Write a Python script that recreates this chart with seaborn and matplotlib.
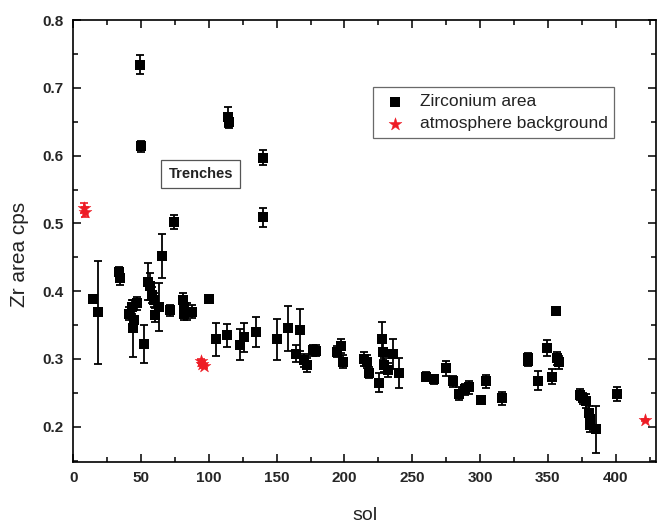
import matplotlib
matplotlib.use("Agg")
import matplotlib.pyplot as plt
from matplotlib.ticker import MultipleLocator
import seaborn as sns
import pandas as pd

# Zirconium area: sol, cps, error
zr_sol = [14.4, 18, 33.5, 34.5, 41.2, 43.1, 44.3, 44.8, 47.3, 49.3, 50, 52.4,
          55.4, 56.6, 57.9, 59.6, 60.3, 63.5, 65.3, 71.4, 74.3, 81.2, 81.5, 82,
          83.7, 87.4, 100.1, 105.3, 113.2, 114, 115, 123, 126.2, 135, 140.2,
          140.3, 150, 158.2, 164.3, 167.3, 170.2, 172.2, 177, 179, 194.3, 197.5,
          199.2, 214.7, 216.4, 218.4, 225.7, 227.8, 228.7, 229.5, 232.4, 235.8,
          240, 260.2, 266.1, 274.7, 280.3, 284.7, 288.9, 292.1, 300.5, 304.4,
          316, 335, 335.4, 342.6, 349.6, 353.3, 355.8, 357, 358.3, 373.7, 375.7,
          378.2, 380.4, 381.1, 381.1, 385.5, 401.3]
zr_cps = [0.388, 0.369, 0.428, 0.419, 0.367, 0.377, 0.345, 0.357, 0.382, 0.734,
          0.614, 0.322, 0.414, 0.407, 0.394, 0.387, 0.365, 0.377, 0.452, 0.372,
          0.502, 0.387, 0.377, 0.367, 0.370, 0.370, 0.388, 0.329, 0.335, 0.657,
          0.650, 0.321, 0.332, 0.340, 0.597, 0.509, 0.329, 0.345, 0.308, 0.343,
          0.298, 0.291, 0.313, 0.312, 0.311, 0.319, 0.296, 0.300, 0.296, 0.280,
          0.265, 0.330, 0.311, 0.291, 0.284, 0.307, 0.279, 0.274, 0.270, 0.286,
          0.267, 0.249, 0.255, 0.258, 0.240, 0.267, 0.242, 0.301, 0.297, 0.268,
          0.316, 0.274, 0.371, 0.301, 0.295, 0.247, 0.242, 0.238, 0.220, 0.212,
          0.202, 0.196, 0.248]
zr_err = [0.004, 0.076, 0.008, 0.010, 0.010, 0.010, 0.042, 0.015, 0.010, 0.014,
          0.008, 0.028, 0.027, 0.020, 0.012, 0.010, 0.010, 0.035, 0.033, 0.008,
          0.010, 0.011, 0.010, 0.010, 0.012, 0.010, 0.006, 0.024, 0.017, 0.015,
          0.010, 0.023, 0.021, 0.022, 0.011, 0.014, 0.030, 0.033, 0.012, 0.031,
          0.010, 0.010, 0.008, 0.008, 0.008, 0.010, 0.010, 0.010, 0.010, 0.008,
          0.014, 0.024, 0.012, 0.010, 0.010, 0.022, 0.022, 0.007, 0.007, 0.011,
          0.008, 0.010, 0.008, 0.010, 0.005, 0.010, 0.010, 0.008, 0.008, 0.014,
          0.012, 0.011, 0.006, 0.010, 0.010, 0.008, 0.008, 0.010, 0.010, 0.010,
          0.010, 0.034, 0.010]

# atmosphere background
atm_sol = [8, 9, 94, 95, 96.5, 422]
atm_cps = [0.523, 0.517, 0.297, 0.292, 0.290, 0.210]
atm_err = [0.007, 0.007, 0.003, 0.003, 0.003, 0.002]

zr = pd.DataFrame({"sol": zr_sol, "cps": zr_cps, "err": zr_err})
atm = pd.DataFrame({"sol": atm_sol, "cps": atm_cps, "err": atm_err})

sns.set_theme(style="ticks")
plt.rcParams["font.family"] = ["Liberation Sans", "DejaVu Sans"]

fig = plt.figure(figsize=(6.57, 5.24), dpi=100)
ax = fig.add_axes([0.1114, 0.1189, 0.8876, 0.8429])

ax.errorbar(zr["sol"], zr["cps"], yerr=zr["err"], fmt="none", ecolor="black",
            elinewidth=1.3, capsize=3, capthick=1.3, zorder=2)
ax.errorbar(atm["sol"], atm["cps"], yerr=atm["err"], fmt="none", ecolor="#ee1c25",
            elinewidth=1.2, capsize=3, capthick=1.2, zorder=2)
sns.scatterplot(data=zr, x="sol", y="cps", marker="s", s=55, color="black",
                edgecolor="black", linewidth=0, label="Zirconium area", ax=ax,
                zorder=3)
sns.scatterplot(data=atm, x="sol", y="cps", marker="*", s=95, color="#ee1c25",
                edgecolor="#ee1c25", linewidth=0.3, label="atmosphere background",
                ax=ax, zorder=4)

ax.set_xlim(0, 430)
ax.set_ylim(0.1485, 0.8)
ax.xaxis.set_major_locator(MultipleLocator(50))
ax.xaxis.set_minor_locator(MultipleLocator(25))
ax.yaxis.set_minor_locator(MultipleLocator(0.05))
ax.set_yticks([0.2, 0.3, 0.4, 0.5, 0.6, 0.7, 0.8])
ax.tick_params(which="both", direction="in", top=True, right=True,
               width=1.1, color="black")
ax.tick_params(which="major", length=6, labelsize=11, pad=7)
ax.tick_params(which="minor", length=3.5)
for lab in ax.get_xticklabels() + ax.get_yticklabels():
    lab.set_fontweight("bold")
for sp in ax.spines.values():
    sp.set_linewidth(1.2)
    sp.set_color("black")

ax.set_xlabel("sol", fontsize=14, color="#222222")
ax.set_ylabel("Zr area cps", fontsize=15, color="#222222")
ax.xaxis.set_label_coords(0.5, -0.102)
ax.yaxis.set_label_coords(-0.075, 0.469)

ax.text(94.1, 0.573, "Trenches", fontsize=10.5, fontweight="bold",
        color="#222222", ha="center", va="center",
        bbox=dict(boxstyle="square,pad=0.5", fc="white", ec="#555555", lw=0.9))

leg = ax.legend(loc="upper left", bbox_to_anchor=(0.5138, 0.8484), fontsize=12.5,
                frameon=True, fancybox=False, edgecolor="#444444",
                borderaxespad=0, handletextpad=0.57, borderpad=0.4,
                labelspacing=0.4, handlelength=1.72)
leg.get_frame().set_linewidth(0.9)
for t in leg.get_texts():
    t.set_color("#222222")

fig.savefig("out.png", dpi=100)
